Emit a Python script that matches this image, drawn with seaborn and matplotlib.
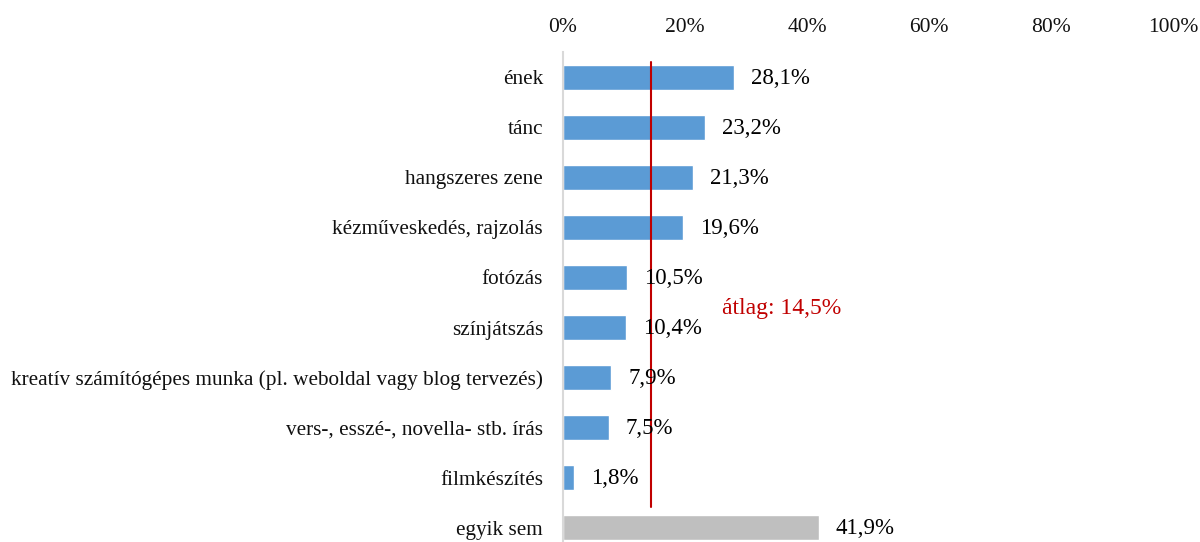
import matplotlib
matplotlib.use("Agg")
import matplotlib.pyplot as plt
import seaborn as sns
import pandas as pd

categories = ["ének", "tánc", "hangszeres zene", "kézműveskedés, rajzolás", "fotózás",
              "színjátszás", "kreatív számítógépes munka (pl. weboldal vagy blog tervezés)",
              "vers-, esszé-, novella- stb. írás", "filmkészítés", "egyik sem"]
values = [28.1, 23.2, 21.3, 19.6, 10.5, 10.4, 7.9, 7.5, 1.8, 41.9]
value_labels = ["28,1%", "23,2%", "21,3%", "19,6%", "10,5%", "10,4%", "7,9%", "7,5%", "1,8%", "41,9%"]
tick_values = [0, 20, 40, 60, 80, 100]
tick_labels = ["0%", "20%", "40%", "60%", "80%", "100%"]
average = 14.5
average_label = "átlag: 14,5%"

sns.set_theme(style="white")
plt.rcParams['font.family'] = ['Liberation Serif', 'DejaVu Serif']

blue = "#5B9BD5"
gray = "#BFBFBF"
red = "#C00000"
colors = [blue] * 9 + [gray]

df = pd.DataFrame({"cat": categories, "val": values})

fig = plt.figure(figsize=(12, 5.42), dpi=100)
ax = fig.add_axes([563 / 1200, -11 / 542, 610 / 1200, 501 / 542])

sns.barplot(data=df, x="val", y="cat", hue="cat", palette=colors, legend=False,
            width=0.5, ax=ax, orient="h", saturation=1)

ax.set_xlim(0, 100)
ax.set_ylim(len(categories) - 0.5, -0.5)
ax.set_xlabel("")
ax.set_ylabel("")
ax.xaxis.tick_top()
ax.set_xticks(tick_values)
ax.set_xticklabels(tick_labels, fontsize=15.5)
ax.tick_params(axis="x", length=0, pad=11, colors="#111111")
ax.tick_params(axis="y", length=0, pad=14.4, labelsize=15.3, colors="#111111")
for s in ["top", "right", "bottom"]:
    ax.spines[s].set_visible(False)
ax.spines["left"].set_color("#D9D9D9")
ax.spines["left"].set_linewidth(1.5)

for i, (v, lab) in enumerate(zip(values, value_labels)):
    ax.annotate(lab, xy=(v, i), xytext=(17, -1), textcoords="offset pixels",
                va="center", ha="left", fontsize=16.5, color="black")

ax.plot([average, average], [-0.3, 8.58], color=red, linewidth=1.5)
ax.text(26.0, 4.62, average_label, color=red, fontsize=17, va="center", ha="left")

fig.savefig("out.png", dpi=100)
